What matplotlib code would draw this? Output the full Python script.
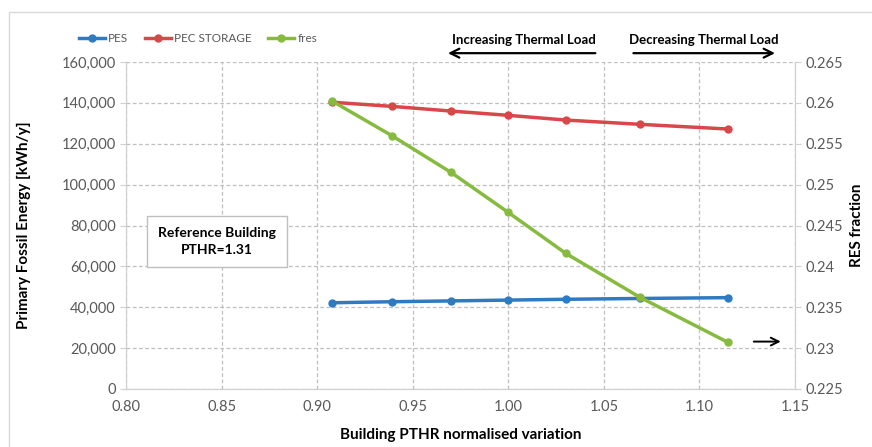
import matplotlib.pyplot as plt
import matplotlib.ticker as mticker

# values
pthr = [0.908, 0.939, 0.970, 1.000, 1.030, 1.069, 1.115]
pes = [42200, 42700, 43100, 43500, 43900, 44300, 44700]
pec_storage = [140300, 138300, 136000, 133900, 131600, 129500, 127200]
fres = [0.2602, 0.2560, 0.2515, 0.2466, 0.2416, 0.2362, 0.2307]

plt.rcParams['font.family'] = ['Lato', 'DejaVu Sans']

grey = "#595959"
grid_col = "#bfbfbf"
spine_col = "#d0d0d0"

fig = plt.figure(figsize=(8.72, 4.47), dpi=100)
# light outer frame like the Excel chart area
fig.patches.append(plt.Rectangle((9 / 872, -0.1), 1.2, (447 - 12) / 447 + 0.1,
                                 transform=fig.transFigure, fill=False,
                                 edgecolor="#d9d9d9", linewidth=1))

ax = fig.add_axes([126 / 872, 58 / 447, 669 / 872, 327 / 447])
ax2 = ax.twinx()

l1, = ax.plot(pthr, pes, color="#2f7bc1", lw=2.5, marker="o", ms=5, label="PES")
l2, = ax.plot(pthr, pec_storage, color="#d9474a", lw=2.5, marker="o", ms=5,
              label="PEC STORAGE")
l3, = ax2.plot(pthr, fres, color="#86bb40", lw=2.5, marker="o", ms=5, label="fres")

ax.set_xlim(0.80, 1.15)
ax.set_ylim(0, 160000)
ax2.set_ylim(0.225, 0.265)
ax.set_xticks([0.80, 0.85, 0.90, 0.95, 1.00, 1.05, 1.10, 1.15])
ax.xaxis.set_major_formatter(mticker.FormatStrFormatter("%.2f"))
ax.set_yticks(range(0, 160001, 20000))
ax.yaxis.set_major_formatter(mticker.FuncFormatter(lambda v, p: f"{int(v):,}"))
ax2.set_yticks([0.225, 0.23, 0.235, 0.24, 0.245, 0.25, 0.255, 0.26, 0.265])
ax2.set_yticklabels(["0.225", "0.23", "0.235", "0.24", "0.245", "0.25",
                     "0.255", "0.26", "0.265"])

ax.grid(True, color=grid_col, linestyle=(0, (3, 2)), linewidth=0.9)
ax.set_axisbelow(True)
for a in (ax, ax2):
    a.spines["top"].set_visible(False)
    for s in ("left", "right", "bottom"):
        a.spines[s].set_color(spine_col)
    a.tick_params(colors=grey, labelsize=10.5, length=4, color=spine_col)
ax.tick_params(axis="x", length=0, pad=8)

ax.set_xlabel("Building PTHR normalised variation", fontsize=11, fontweight="bold",
              labelpad=10)
ax.set_ylabel("Primary Fossil Energy [kWh/y]", fontsize=11, fontweight="bold",
              labelpad=22)
ax2.set_ylabel("RES fraction", fontsize=11, fontweight="bold", labelpad=5)

fig.legend(handles=[l1, l2, l3], loc="upper left", bbox_to_anchor=(68 / 872, 0.95),
           ncol=3, frameon=False, fontsize=8.5, handlelength=2.2,
           columnspacing=1.4, handletextpad=0.3, labelcolor=grey)

# thermal load arrows above the plot
tr = ax.get_xaxis_transform()
ax.text(1.008, 1.067, "Increasing Thermal Load", transform=tr, ha="center",
        va="center", fontsize=9.5, fontweight="bold")
ax.text(1.102, 1.067, "Decreasing Thermal Load", transform=tr, ha="center",
        va="center", fontsize=9.5, fontweight="bold")
arrow = dict(arrowstyle="->", lw=1.6, color="black", mutation_scale=16)
ax.annotate("", xy=(0.967, 1.027), xytext=(1.047, 1.027), xycoords=tr,
            textcoords=tr, annotation_clip=False, arrowprops=arrow)
ax.annotate("", xy=(1.141, 1.027), xytext=(1.064, 1.027), xycoords=tr,
            textcoords=tr, annotation_clip=False, arrowprops=arrow)
ax2.annotate("", xy=(1.144, 0.2308), xytext=(1.127, 0.2308),
             arrowprops=dict(arrowstyle="->", lw=1.4, color="black",
                             mutation_scale=14))

ax.text(0.8475, 72000, "Reference Building\nPTHR=1.31", ha="center", va="center",
        fontsize=10, fontweight="bold", linespacing=1.5,
        bbox=dict(boxstyle="square,pad=0.8", facecolor="white", edgecolor="#bfbfbf"))

fig.savefig("out.png", dpi=100)
